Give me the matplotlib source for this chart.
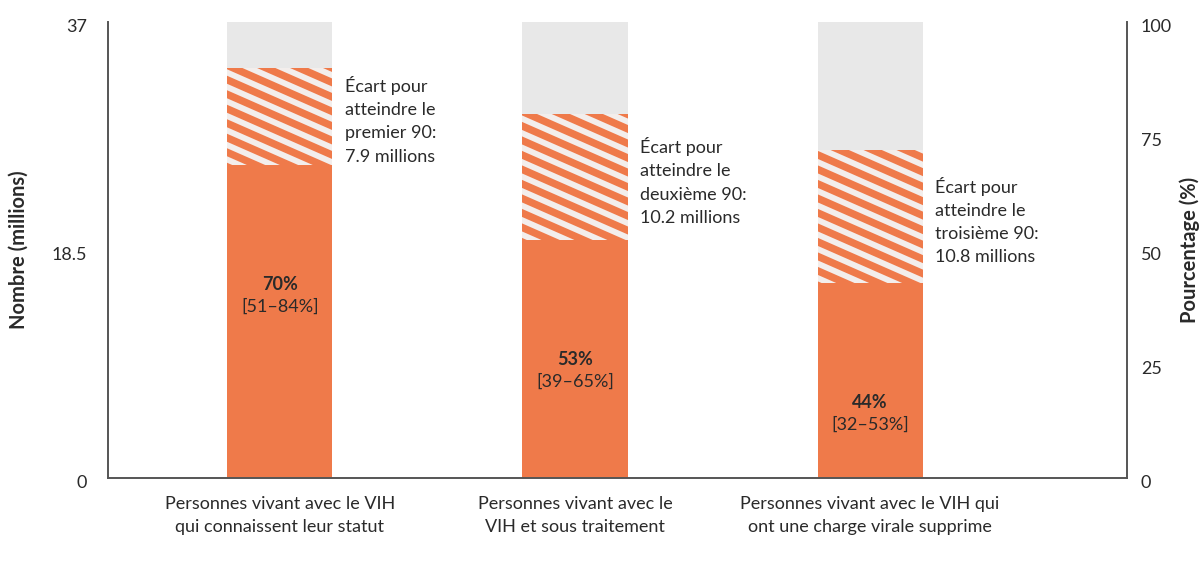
import numpy as np
import matplotlib.pyplot as plt
from matplotlib.collections import LineCollection
from matplotlib.transforms import IdentityTransform, ScaledTranslation

plt.rcParams['font.family'] = ['Lato', 'DejaVu Sans']

categories = ['Personnes vivant avec le VIH\nqui connaissent leur statut',
              'Personnes vivant avec le\nVIH et sous traitement',
              'Personnes vivant avec le VIH qui\nont une charge virale supprime']
total = [37, 37, 37]
atteint = [25.4, 19.3, 15.8]          # millions
ecart = [7.9, 10.2, 10.8]             # millions
pct = ['70%', '53%', '44%']
intervalle = ['[51–84%]', '[39–65%]', '[32–53%]']
ecart_txt = ['Écart pour\natteindre le\npremier 90:\n7.9 millions',
             'Écart pour\natteindre le\ndeuxième 90:\n10.2 millions',
             'Écart pour\natteindre le\ntroisième 90:\n10.8 millions']

orange = '#EF7A4A'
gris = '#E8E8E8'
clair = '#F3EEEC'
txt = '#2a2a2a'

x = np.arange(len(categories))
w = 0.356

fig = plt.figure(figsize=(12.01, 5.62), dpi=100)
ax = fig.add_axes([0.0899, 0.1495, 0.8485, 0.8114])
ax.set_xlim(-0.583, 2.871)
ax.set_ylim(0, 37)

ax.bar(x, total, width=w, color=gris, linewidth=0)
gap_bars = ax.bar(x, ecart, bottom=atteint, width=w, color=clair, linewidth=0)
ax.bar(x, atteint, width=w, color=orange, linewidth=0)

# diagonal stripes in the gap segment
for p in gap_bars:
    (x0, y0), (x1, y1) = ax.transData.transform([(p.get_x(), p.get_y()),
                                                  (p.get_x() + p.get_width(), p.get_y() + p.get_height())])
    s = 0.44
    segs = []
    c = y0 - 2
    while c < y1 + s * (x1 - x0) + 20:
        segs.append([(x0 - 5, c + s * 5), (x1 + 5, c - s * (x1 - x0 + 5))])
        c += 14.5
    lc = LineCollection(segs, colors=orange, linewidths=5.3, transform=IdentityTransform())
    ax.add_collection(lc, autolim=False)
    lc.set_clip_path(p)

for i in range(len(x)):
    ax.annotate(pct[i], (x[i], atteint[i]), xytext=(0, -86), textcoords='offset points',
                ha='center', va='center', fontsize=13, fontweight='bold', color=txt)
    ax.annotate(intervalle[i], (x[i], atteint[i]), xytext=(0, -102), textcoords='offset points',
                ha='center', va='center', fontsize=13, color=txt)
    ax.annotate(ecart_txt[i], (x[i] + w / 2, atteint[i] + ecart[i] / 2), xytext=(9, -3),
                textcoords='offset points', ha='left', va='center', fontsize=13,
                color=txt, linespacing=1.55)

ax.spines['top'].set_visible(False)
for sp in ['left', 'right', 'bottom']:
    ax.spines[sp].set_color('#555555')
    ax.spines[sp].set_linewidth(1.4)

ax.set_xticks(x)
ax.set_xticklabels(categories, fontsize=13, color=txt, linespacing=1.55)
ax.tick_params(axis='x', length=0, pad=13)
ax.set_yticks([0, 18.5, 37])
ax.set_yticklabels(['0', '18.5', '37'], fontsize=13, color=txt)
ax.tick_params(axis='y', length=0, pad=15)
ax.set_ylabel('Nombre (millions)', fontsize=14.5, fontweight='bold', color=txt)
ax.yaxis.set_label_coords(-0.0775, 0.5)

ax2 = ax.twinx()
ax2.set_ylim(0, 100)
ax2.set_yticks([0, 25, 50, 75, 100])
ax2.tick_params(axis='y', length=0, pad=10, labelsize=13, labelcolor=txt)
for sp in ax2.spines.values():
    sp.set_visible(False)
ax2.set_ylabel('Pourcentage (%)', fontsize=14.5, fontweight='bold', color=txt)
ax2.yaxis.set_label_coords(1.0515, 0.5)

# tick labels sit a little below their tick in the reference
shift = ScaledTranslation(0, -0.04, fig.dpi_scale_trans)
for lab in ax.get_yticklabels() + ax2.get_yticklabels():
    lab.set_transform(lab.get_transform() + shift)

fig.savefig('out.png', dpi=100)
